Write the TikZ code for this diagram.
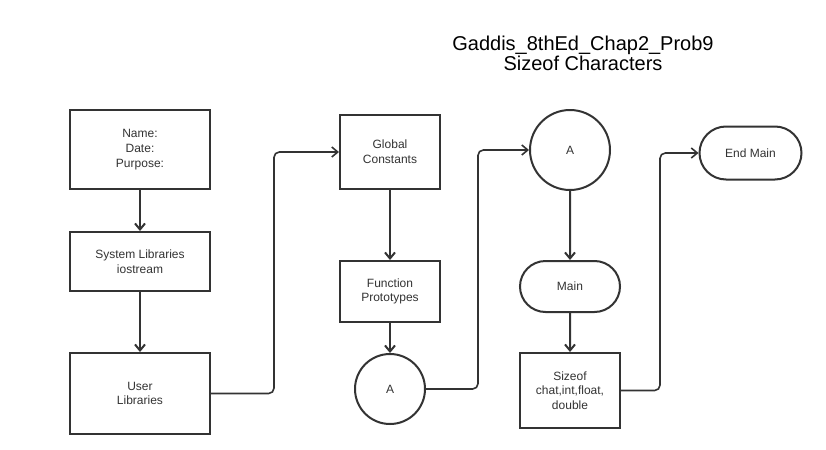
\documentclass[tikz,border=0pt]{standalone}
\usepackage{fontspec}
\setmainfont{Liberation Sans}
\usetikzlibrary{arrows.meta, positioning, shapes.misc}

\definecolor{ink}{HTML}{333333}

\begin{document}
\begin{tikzpicture}[
    x = 0.75pt, y = -0.75pt, % pixel grid, y pointing down
    > = {Straight Barb[length=4.5pt, width=7.5pt]}, % arrow head style
    line width = 1.5pt, % line style
    draw = ink,
    font = \fontsize{9}{11}\selectfont
]

\tikzstyle{block}=[
    draw = ink,
    text = ink,
    align = center,
    inner sep = 0pt,
    minimum width = 105pt,
]
\tikzstyle{small block}=[
    block,
    minimum width = 75pt,
]
\tikzstyle{terminal}=[
    small block,
    rounded rectangle,
    minimum height = 38.25pt,
]
\tikzstyle{connector}=[
    circle,
    draw = ink,
    text = ink,
    inner sep = 0pt,
]
\tikzstyle{flow}=[->, ink]
\tikzstyle{elbow}=[flow, line width = 1.2pt, rounded corners = 4pt]

\useasboundingbox[fill = white] (0,0) rectangle (826,450);

% title
\node[align=center, font=\fontsize{15}{15}\selectfont] (title) at (583,53)
{Gaddis\_8thEd\_Chap2\_Prob9\\Sizeof Characters};

% first column
\node[block, minimum height=59.25pt] (info) at (140,149.5) {Name:\\Date:\\Purpose:};
\node[block, minimum height=44.25pt] (syslib) [below=30.75pt of info] {System Libraries\\iostream};
\node[block, minimum height=60.75pt] (userlib) [below=45pt of syslib] {User\\Libraries};

% second column
\node[small block, minimum height=55.5pt] (global) at (390,152) {Global\\Constants};
\node[small block, minimum height=45.75pt] (proto) [below=52.5pt of global] {Function\\Prototypes};
\node[connector, minimum size=52.5pt] (conA) [below=22.5pt of proto] {A};

% third column
\node[connector, minimum size=60pt] (conB) at (570,150) {A};
\node[terminal] (main) [below=51.75pt of conB] {Main};
\node[small block, minimum height=56.25pt, font=\fontsize{9}{10.9}\selectfont] (sizeof) [below=29.25pt of main] {Sizeof\\chat,int,float,\\double};

% end
\node[terminal, minimum width=76.5pt, minimum height=39.75pt] (endmain) at (750.5,153) {End Main};

\draw[flow] (info) -- (syslib);
\draw[flow] (syslib) -- (userlib);
\draw[elbow] (userlib.east) -- ++(47.25pt,0) |- (global.west);

\draw[flow] (global) -- (proto);
\draw[flow] (proto) -- (conA);
\draw[elbow] (conA.east) -- ++(39pt,0) |- (conB.west);

\draw[flow] (conB) -- (main);
\draw[flow] (main) -- (sizeof);
\draw[elbow] (sizeof.east) -- ++(29.25pt,0) |- (endmain.west);
\end{tikzpicture}
\end{document}
